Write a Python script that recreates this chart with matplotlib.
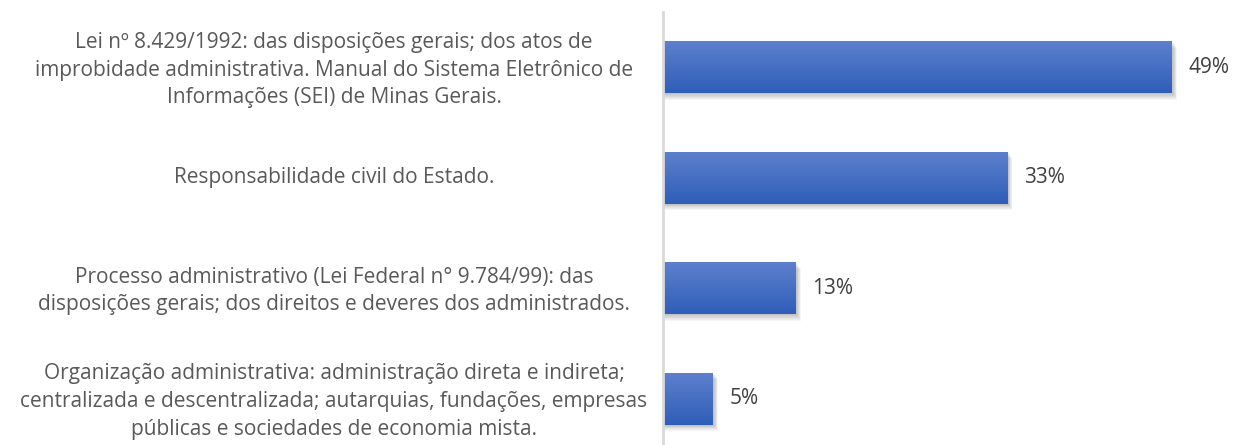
import matplotlib
matplotlib.use("Agg")
import matplotlib.pyplot as plt
import numpy as np
from matplotlib.patches import Rectangle
from matplotlib.colors import LinearSegmentedColormap
import matplotlib.transforms as mtransforms

categories = [
    "Lei nº 8.429/1992: das disposições gerais; dos atos de\nimprobidade administrativa. Manual do Sistema Eletrônico de\nInformações (SEI) de Minas Gerais.",
    "Responsabilidade civil do Estado.",
    "Processo administrativo (Lei Federal n° 9.784/99): das\ndisposições gerais; dos direitos e deveres dos administrados.",
    "Organização administrativa: administração direta e indireta;\ncentralizada e descentralizada; autarquias, fundações, empresas\npúblicas e sociedades de economia mista.",
]
values = [49.1, 33.2, 12.8, 4.8]
value_labels = ["49%", "33%", "13%", "5%"]

W, H = 1233, 445
fig = plt.figure(figsize=(W / 100, H / 100), dpi=100)
left = 663 / W
right = 1233 / W
top = 1 - 12 / H
bottom = 1 - 454 / H
ax = fig.add_axes([left, bottom, right - left, top - bottom])

ypos = np.arange(len(values))
bh = 0.47
cmap = LinearSegmentedColormap.from_list("g", ["#5d80cd", "#2f5eb9"])
grad = np.linspace(0, 1, 64).reshape(-1, 1)

bars = ax.barh(ypos, values, height=bh, color="#4472c4", zorder=3)
dx = 55 / 570
dy = 4.0 / 442
for b in bars:
    x0, y0 = b.get_x(), b.get_y()
    w, h = b.get_width(), b.get_height()
    for k in range(1, 8):
        ax.add_patch(Rectangle((x0 + 1 * dx, y0 + (k * 0.9) * dy), w + (k * 0.6) * dx, h,
                               color="#000000", alpha=0.035, lw=0, zorder=2))
    im = ax.imshow(grad, cmap=cmap, aspect="auto",
                   extent=(x0, x0 + w, y0 + h, y0), zorder=4,
                   interpolation="bilinear")
    im.set_clip_path(b)
ax.set_xlim(0, 55)
ax.set_ylim(3.5, -0.5)

for y, v, lab in zip(ypos, values, value_labels):
    ax.text(v + 1.6, y, lab, va="center", ha="left", fontsize=15,
            color="#404040", family="Open Sans")

ax.set_yticks(ypos)
ax.set_yticklabels(categories, fontsize=15, color="#595959",
                   family="Open Sans", ha="center", linespacing=1.42)
ax.tick_params(axis="y", length=0, pad=0)
ax.set_xticks([])
for s in ["top", "right", "bottom"]:
    ax.spines[s].set_visible(False)
ax.spines["left"].set_color("#d9d9d9")
ax.spines["left"].set_linewidth(2)
ax.spines["left"].set_zorder(5)

offset = mtransforms.ScaledTranslation(-(663 - 334) / 100, 3 / 100, fig.dpi_scale_trans)
for lbl in ax.get_yticklabels():
    lbl.set_transform(lbl.get_transform() + offset)

fig.savefig("out.png", dpi=100, facecolor="white")
